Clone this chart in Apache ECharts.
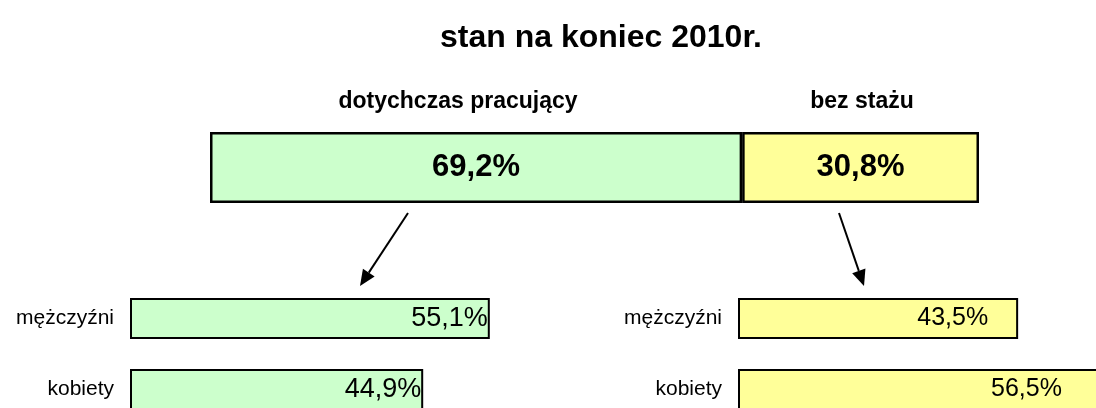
<!DOCTYPE html>
<html>
<head>
<meta charset="utf-8">
<title>stan na koniec 2010r.</title>
<script src="https://cdn.jsdelivr.net/npm/echarts@6/dist/echarts.min.js"></script>
<style>
    html, body { margin: 0; padding: 0; background: #fff; }
    #chart { width: 1096px; height: 408px; }
</style>
</head>
<body>
<div id="chart"></div>
<script>
    // dane
    const chartTitle = 'stan na koniec 2010r.';
    const groupNames = ['dotychczas pracujący', 'bez stażu'];
    const groupShares = [69.2, 30.8];
    const genderNames = ['mężczyźni', 'kobiety'];
    const workedShares = [55.1, 44.9];
    const noExpShares = [43.5, 56.5];

    const FONT = '"Liberation Sans", Arial, sans-serif';
    const GREEN = '#ccffcc';
    const YELLOW = '#ffff99';

    function pct(v) {
        return v.toFixed(1).replace('.', ',') + '%';
    }

    function arrow(x1, y1, x2, y2) {
        let ang = Math.atan2(y2 - y1, x2 - x1);
        let len = 16, half = 7;
        let bx = x2 - len * Math.cos(ang), by = y2 - len * Math.sin(ang);
        let px = -Math.sin(ang) * half, py = Math.cos(ang) * half;
        return {
            type: 'group',
            children: [
                { type: 'line', shape: { x1: x1, y1: y1, x2: bx, y2: by }, style: { stroke: '#000', lineWidth: 2 } },
                { type: 'polygon', shape: { points: [[x2, y2], [bx + px, by + py], [bx - px, by - py]] }, style: { fill: '#000' } }
            ]
        };
    }

    let chart = echarts.init(document.getElementById('chart'));

    let hiddenValueAxis = function (grid) {
        return { type: 'value', gridIndex: grid, min: 0, max: 100, show: false };
    };

    chart.setOption({
        animation: false,
        backgroundColor: '#fff',
        textStyle: { fontFamily: FONT },
        title: [
            {
                text: chartTitle, left: 596, top: 17, textAlign: 'center',
                textStyle: { fontFamily: FONT, fontSize: 32, fontWeight: 'bold', color: '#000' }
            },
            {
                text: groupNames[0], left: 453, top: 85, textAlign: 'center',
                textStyle: { fontFamily: FONT, fontSize: 23, fontWeight: 'bold', color: '#000' }
            },
            {
                text: groupNames[1], left: 857, top: 85, textAlign: 'center',
                textStyle: { fontFamily: FONT, fontSize: 23, fontWeight: 'bold', color: '#000' }
            }
        ],
        grid: [
            { left: 210, top: 132, width: 769, height: 71, outerBoundsMode: 'none' },
            { left: 130, top: 283, width: 653, height: 142, outerBoundsMode: 'none' },
            { left: 738, top: 283, width: 644, height: 142, outerBoundsMode: 'none' }
        ],
        xAxis: [hiddenValueAxis(0), hiddenValueAxis(1), hiddenValueAxis(2)],
        yAxis: [
            { type: 'category', gridIndex: 0, data: ['razem'], show: false },
            {
                type: 'category', gridIndex: 1, data: genderNames, inverse: true,
                axisLine: { show: false }, axisTick: { show: false },
                axisLabel: { margin: 16, fontSize: 21, color: '#000', fontFamily: FONT }
            },
            {
                type: 'category', gridIndex: 2, data: genderNames, inverse: true,
                axisLine: { show: false }, axisTick: { show: false },
                axisLabel: { margin: 16, fontSize: 21, color: '#000', fontFamily: FONT }
            }
        ],
        series: [
            {
                name: groupNames[0], type: 'bar', stack: 'top', xAxisIndex: 0, yAxisIndex: 0,
                barWidth: '100%', data: [groupShares[0]],
                itemStyle: { color: GREEN, borderColor: '#000', borderWidth: 2.5 },
                label: { show: true, position: 'inside', formatter: p => pct(p.value), fontSize: 31, fontWeight: 'bold', color: '#000', fontFamily: FONT }
            },
            {
                name: groupNames[1], type: 'bar', stack: 'top', xAxisIndex: 0, yAxisIndex: 0,
                barWidth: '100%', data: [groupShares[1]],
                itemStyle: { color: YELLOW, borderColor: '#000', borderWidth: 2.5 },
                label: { show: true, position: 'inside', formatter: p => pct(p.value), fontSize: 31, fontWeight: 'bold', color: '#000', fontFamily: FONT }
            },
            {
                name: groupNames[0], type: 'bar', xAxisIndex: 1, yAxisIndex: 1,
                barWidth: 41, data: workedShares,
                itemStyle: { color: GREEN, borderColor: '#000', borderWidth: 2 },
                label: { show: true, position: 'insideRight', distance: 2, formatter: p => pct(p.value), fontSize: 27, color: '#000', fontFamily: FONT }
            },
            {
                name: groupNames[1], type: 'bar', xAxisIndex: 2, yAxisIndex: 2,
                barWidth: 41,
                data: [
                    { value: noExpShares[0], label: { distance: 30 } },
                    { value: noExpShares[1], label: { distance: 40 } }
                ],
                itemStyle: { color: YELLOW, borderColor: '#000', borderWidth: 2 },
                label: { show: true, position: 'insideRight', formatter: p => pct(p.value), fontSize: 25, color: '#000', fontFamily: FONT }
            }
        ],
        graphic: [
            arrow(408, 213, 360, 286),
            arrow(839, 213, 864, 286)
        ]
    });
</script>
</body>
</html>
